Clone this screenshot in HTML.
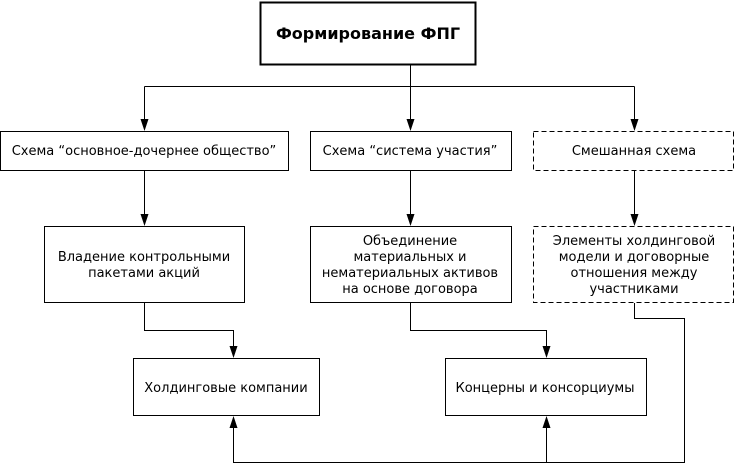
<!DOCTYPE html>
<html><head><meta charset="utf-8"><style>
body{margin:0;background:#fff;width:735px;height:464px;overflow:hidden}
svg text{font-family:"DejaVu Sans","Liberation Sans",sans-serif;font-size:13px;fill:#000}
</style></head><body>
<svg width="735" height="464" viewBox="0 0 735 464" xmlns="http://www.w3.org/2000/svg">
<g fill="#fff" stroke="#000" stroke-width="1">
<rect x="260.5" y="2.5" width="215" height="62" stroke-width="2"/>
<rect x="0.5" y="131.5" width="288" height="39"/>
<rect x="310.5" y="131.5" width="201" height="39"/>
<rect x="533.5" y="131.5" width="200" height="39" stroke-dasharray="5,3"/>
<rect x="44.5" y="226.5" width="200" height="76"/>
<rect x="310.5" y="226.5" width="201" height="76"/>
<rect x="533.5" y="226.5" width="200" height="76" stroke-dasharray="5,3"/>
<rect x="133.5" y="358.5" width="186" height="57"/>
<rect x="445.5" y="358.5" width="201" height="57"/>
</g>
<g fill="none" stroke="#000" stroke-width="1">
<path d="M410.5 65V86.5M144.5 86.5H634.5"/>
<path d="M144.5 86.5V119M410.5 86.5V119M634.5 86.5V119"/>
<path d="M144.5 171V214M410.5 171V214M634.5 171V214"/>
<path d="M144.5 303V330.5H233.5V346"/>
<path d="M410.5 303V330.5H546.5V346"/>
<path d="M634.5 303V318.5H684.5V462.5H233.5V428M546.5 462.5V428"/>
</g>
<g fill="#000">
<path d="M140.5 119h8l-4 12z"/><path d="M406.5 119h8l-4 12z"/><path d="M630.5 119h8l-4 12z"/>
<path d="M140.5 214h8l-4 12z"/><path d="M406.5 214h8l-4 12z"/><path d="M630.5 214h8l-4 12z"/>
<path d="M229.5 346h8l-4 12z"/><path d="M542.5 346h8l-4 12z"/>
<path d="M229.5 428h8l-4 -12z"/><path d="M542.5 428h8l-4 -12z"/>
</g>
<g text-anchor="middle">
<text x="368" y="39" style="font-weight:bold;font-size:16px">Формирование ФПГ</text>
<text x="144" y="155">Схема “основное-дочернее общество”</text>
<text x="410" y="155">Схема “система участия”</text>
<text x="634" y="155">Смешанная схема</text>
<text x="144" y="261">Владение контрольными</text>
<text x="144" y="277">пакетами акций</text>
<text x="410" y="245">Объединение</text>
<text x="410" y="261">материальных и</text>
<text x="410" y="277">нематериальных активов</text>
<text x="410" y="293">на основе договора</text>
<text x="634" y="245">Элементы холдинговой</text>
<text x="634" y="261">модели и договорные</text>
<text x="634" y="277">отношения между</text>
<text x="634" y="293">участниками</text>
<text x="226" y="392">Холдинговые компании</text>
<text x="545" y="392">Концерны и консорциумы</text>
</g>
</svg>
</body></html>
